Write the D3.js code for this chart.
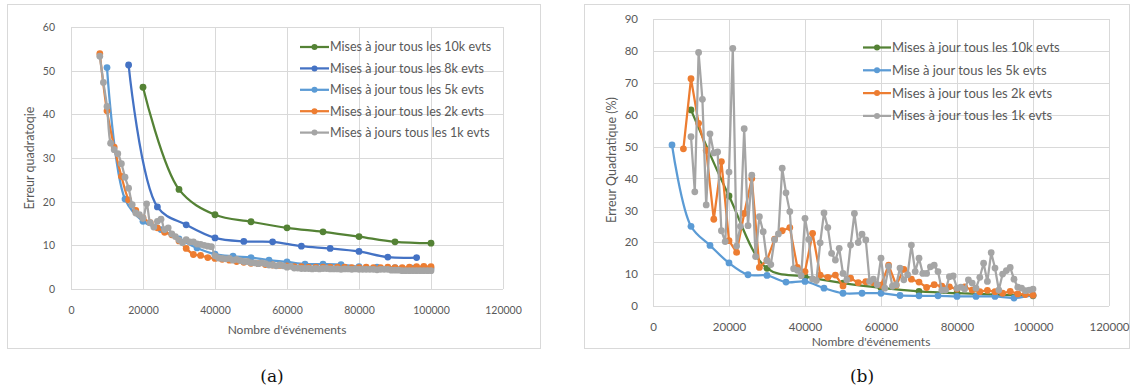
<!DOCTYPE html>
<html><head><meta charset="utf-8">
<script src="https://cdn.jsdelivr.net/npm/d3@7"></script>
<style>
html,body{margin:0;padding:0;background:#fff;}
svg{display:block;font-family:Lato, "Open Sans", sans-serif;}
</style></head>
<body>
<svg id="c" width="1137" height="390"></svg>
<script>
// ---------- data: chart (a) ----------
const xTicks = [0,20000,40000,60000,80000,100000,120000];
const yTicksA = [0,10,20,30,40,50,60];
const yTicksB = [0,10,20,30,40,50,60,70,80,90];

const legendA = ["Mises à jour tous les 10k evts","Mises à jour tous les 8k evts","Mises à jour tous les 5k evts","Mises à jour tous les 2k evts","Mises à jours tous les 1k evts"];
const legendB = ["Mises à jour tous les 10k evts","Mise à jour tous les 5k evts","Mises à jour tous les 2k evts","Mises à jour tous les 1k evts"];

const a10kX = [20000,30000,40000,50000,60000,70000,80000,90000,100000];
const a10kY = [46.2,22.8,17.0,15.4,14.0,13.1,12.0,10.8,10.5];
const a8kX = [16000,24000,32000,40000,48000,56000,64000,72000,80000,88000,96000];
const a8kY = [51.3,18.8,14.7,11.7,10.9,10.8,9.8,9.3,8.6,7.3,7.2];
const a5kX = [10000,15000,20000,25000,30000,35000,40000,45000,50000,55000,60000,65000,70000,75000,80000,85000,90000,95000,100000];
const a5kY = [50.7,20.6,15.5,13.6,11.5,9.4,8.0,7.5,7.2,6.6,6.2,5.7,5.7,5.6,5.1,5.0,4.9,4.8,4.7];
const a2kX = d3.range(8000,100001,2000);
const a2kY = [53.9,40.8,32.5,25.8,20.4,18.0,16.3,15.2,14.0,13.0,12.4,11.0,9.3,7.9,7.7,7.2,7.0,6.8,6.6,6.3,6.1,5.9,5.8,5.6,5.5,5.4,5.3,5.1,5.1,5.0,5.0,5.0,5.0,5.0,5.0,4.9,4.9,5.0,4.9,4.9,5.0,4.9,4.9,5.0,5.1,5.2,5.1];
const a1kX = d3.range(8000,100001,1000);
const a1kY = [53.3,47.3,41.8,33.4,31.9,31.0,28.7,25.6,23.1,19.3,17.4,17.0,16.2,19.5,15.2,14.2,15.5,16.0,13.6,14.0,12.6,12.0,11.2,10.6,11.3,10.8,10.8,10.3,10.2,10.0,9.8,9.7,7.6,7.1,7.0,6.9,7.0,6.6,6.8,6.5,6.3,6.3,6.0,6.0,5.8,6.0,5.8,5.5,5.5,5.3,5.5,5.3,5.0,5.2,4.8,4.8,4.7,4.7,4.7,4.6,4.7,4.6,4.7,4.7,4.6,4.6,4.6,4.5,4.6,4.6,4.5,4.6,4.5,4.5,4.5,4.5,4.5,4.4,4.5,4.5,4.5,4.3,4.3,4.3,4.2,4.2,4.2,4.2,4.2,4.2,4.2,4.2,4.2];

// ---------- data: chart (b) ----------
const b10kX = [10000,20000,30000,40000,50000,60000,70000,80000,90000,100000];
const b10kY = [61.5,34.5,11.8,9.2,7.2,5.7,4.6,4.0,3.6,3.2];
const b5kX = d3.range(5000,100001,5000);
const b5kY = [50.5,25.0,19.0,13.5,9.8,9.6,7.5,7.7,5.6,4.0,4.0,4.0,3.3,3.2,3.2,3.0,3.0,3.0,2.5,3.4];
const b2kX = d3.range(8000,100001,2000);
const b2kY = [49.3,71.3,57.3,48.8,27.2,45.3,20.5,16.8,29.0,40.0,12.1,14.4,21.0,23.6,24.6,12.1,10.8,22.8,9.7,9.0,9.7,6.3,8.7,7.3,7.6,7.3,6.5,12.8,6.5,11.5,8.4,7.5,5.8,6.7,6.2,6.0,5.3,6.0,5.0,4.5,4.9,4.5,4.0,4.6,3.8,3.6,3.4];
const b1kX = d3.range(10000,100001,1000);
const b1kY = [53.1,35.8,79.5,64.8,31.7,54.0,48.0,48.3,23.6,20.2,42.0,80.8,18.8,25.0,55.6,25.2,41.0,15.5,28.0,23.3,14.2,13.0,20.8,22.6,43.2,35.5,29.6,11.7,11.2,9.5,27.5,20.9,8.5,8.0,19.8,29.2,24.6,16.5,14.4,18.1,10.2,8.2,19.1,29.0,19.9,22.5,20.7,7.7,8.4,6.7,15.0,5.6,12.4,6.2,6.7,11.9,8.2,9.8,19.1,10.8,15.0,10.2,10.2,12.3,12.8,10.8,5.0,5.0,9.2,9.4,5.6,5.9,5.3,8.2,7.2,5.6,9.0,13.4,7.7,16.7,11.9,5.0,10.0,11.1,12.1,8.4,5.9,5.6,4.8,5.0,5.3];

// ---------- styles ----------
const GREEN="#548235", BLUE="#4472C4", LBLUE="#5B9BD5", ORANGE="#ED7D31", GRAY="#A5A5A5";
const TXT="#595959", GRID="#d9d9d9";

const svg = d3.select("#c");

// frames
svg.append("rect").attr("x",7.5).attr("y",4.5).attr("width",533).attr("height",344).attr("fill","none").attr("stroke",GRID);
svg.append("rect").attr("x",584.5).attr("y",4.5).attr("width",545).attr("height",344).attr("fill","none").attr("stroke",GRID);

function drawChart(cfg){
  const g = svg.append("g");
  const x = d3.scaleLinear().domain([0,120000]).range(cfg.xr);
  const y = d3.scaleLinear().domain([0,cfg.ymax]).range(cfg.yr);
  // grid
  g.selectAll(".hg").data(cfg.yTicks).join("line")
    .attr("x1",cfg.xr[0]).attr("x2",cfg.xr[1])
    .attr("y1",d=>Math.round(y(d))+0.5).attr("y2",d=>Math.round(y(d))+0.5)
    .attr("stroke",GRID).attr("stroke-width",1);
  g.selectAll(".vg").data(xTicks).join("line")
    .attr("y1",cfg.yr[0]).attr("y2",cfg.yr[1])
    .attr("x1",d=>Math.round(x(d))+0.5).attr("x2",d=>Math.round(x(d))+0.5)
    .attr("stroke",GRID).attr("stroke-width",1);
  // axes labels via d3 axes
  const xa = g.append("g").attr("transform",`translate(0,${cfg.yr[0]+cfg.xLabOff})`)
    .call(d3.axisBottom(x).tickValues(xTicks).tickSize(0).tickFormat(d3.format("d")));
  xa.select(".domain").remove();
  xa.selectAll("text").attr("fill",TXT).attr("font-size",cfg.tickFs).attr("font-family","Lato").attr("dy","0.71em");
  const ya = g.append("g").attr("transform",`translate(${cfg.yLabX},0)`)
    .call(d3.axisLeft(y).tickValues(cfg.yTicks).tickSize(0).tickFormat(d3.format("d")));
  ya.select(".domain").remove();
  ya.selectAll("text").attr("fill",TXT).attr("font-size",cfg.tickFs).attr("font-family","Lato");
  // titles
  g.append("text").attr("x",(cfg.xr[0]+cfg.xr[1])/2+cfg.xtDx).attr("y",cfg.xtY)
    .attr("text-anchor","middle").attr("fill",TXT).attr("font-size",12).text("Nombre d'événements");
  g.append("text").attr("transform",`translate(${cfg.ytX},${cfg.ytY}) rotate(-90)`)
    .attr("text-anchor","middle").attr("fill",TXT).attr("font-size",12.5).text(cfg.yTitle);
  // series
  cfg.series.forEach(s=>{
    const pts = s.xs.map((v,i)=>[v,s.ys[i]]);
    const line = d3.line().x(d=>x(d[0])).y(d=>y(d[1])).curve(s.smooth?d3.curveCatmullRom.alpha(0.5):d3.curveLinear);
    g.append("path").attr("d",line(pts)).attr("fill","none").attr("stroke",s.color).attr("stroke-width",2.25).attr("stroke-linejoin","round");
    g.selectAll(null).data(pts).join("circle").attr("cx",d=>x(d[0])).attr("cy",d=>y(d[1])).attr("r",s.r||3.4).attr("fill",s.color);
  });
  // legend
  cfg.series.forEach((s,i)=>{
    const ly = cfg.lg.y + i*cfg.lg.dy;
    g.append("line").attr("x1",cfg.lg.x).attr("x2",cfg.lg.x+cfg.lg.w).attr("y1",ly).attr("y2",ly).attr("stroke",s.color).attr("stroke-width",2.25);
    g.append("circle").attr("cx",cfg.lg.x+cfg.lg.w/2).attr("cy",ly).attr("r",3).attr("fill",s.color);
    g.append("text").attr("x",cfg.lg.x+cfg.lg.w+1).attr("y",ly).attr("dy","0.35em").attr("fill",TXT).attr("font-size",cfg.lg.fs).text(cfg.legend[i]);
  });
}

drawChart({
  xr:[71,503], yr:[289,27], ymax:60, yTicks:yTicksA, xLabOff:15, yLabX:58, tickFs:10.5,
  xtY:334, xtDx:0, ytX:34, ytY:158, yTitle:"Erreur quadratoqie",
  legend:legendA, lg:{x:300,y:47,dy:21.4,w:29,fs:12.5},
  series:[
    {xs:a10kX,ys:a10kY,color:GREEN,smooth:true},
    {xs:a8kX,ys:a8kY,color:BLUE,smooth:true},
    {xs:a5kX,ys:a5kY,color:LBLUE,smooth:true},
    {xs:a2kX,ys:a2kY,color:ORANGE,smooth:true},
    {xs:a1kX,ys:a1kY,color:GRAY,smooth:true}
  ]
});

drawChart({
  xr:[653,1109], yr:[306,19], ymax:90, yTicks:yTicksB, xLabOff:14, yLabX:641, tickFs:11.5,
  xtY:346, xtDx:-10, ytX:616, ytY:160, yTitle:"Erreur Quadratique (%)",
  legend:legendB, lg:{x:863,y:47.5,dy:22.8,w:28,fs:13},
  series:[
    {xs:b10kX,ys:b10kY,color:GREEN,smooth:true},
    {xs:b5kX,ys:b5kY,color:LBLUE,smooth:true},
    {xs:b2kX,ys:b2kY,color:ORANGE,smooth:false},
    {xs:b1kX,ys:b1kY,color:GRAY,smooth:false}
  ]
});

// captions
svg.append("text").attr("x",272).attr("y",382).attr("text-anchor","middle").attr("font-family","'DejaVu Serif', serif").attr("font-size",17).attr("fill","#111").text("(a)");
svg.append("text").attr("x",862).attr("y",382).attr("text-anchor","middle").attr("font-family","'DejaVu Serif', serif").attr("font-size",17).attr("fill","#111").text("(b)");
</script>
</body></html>
